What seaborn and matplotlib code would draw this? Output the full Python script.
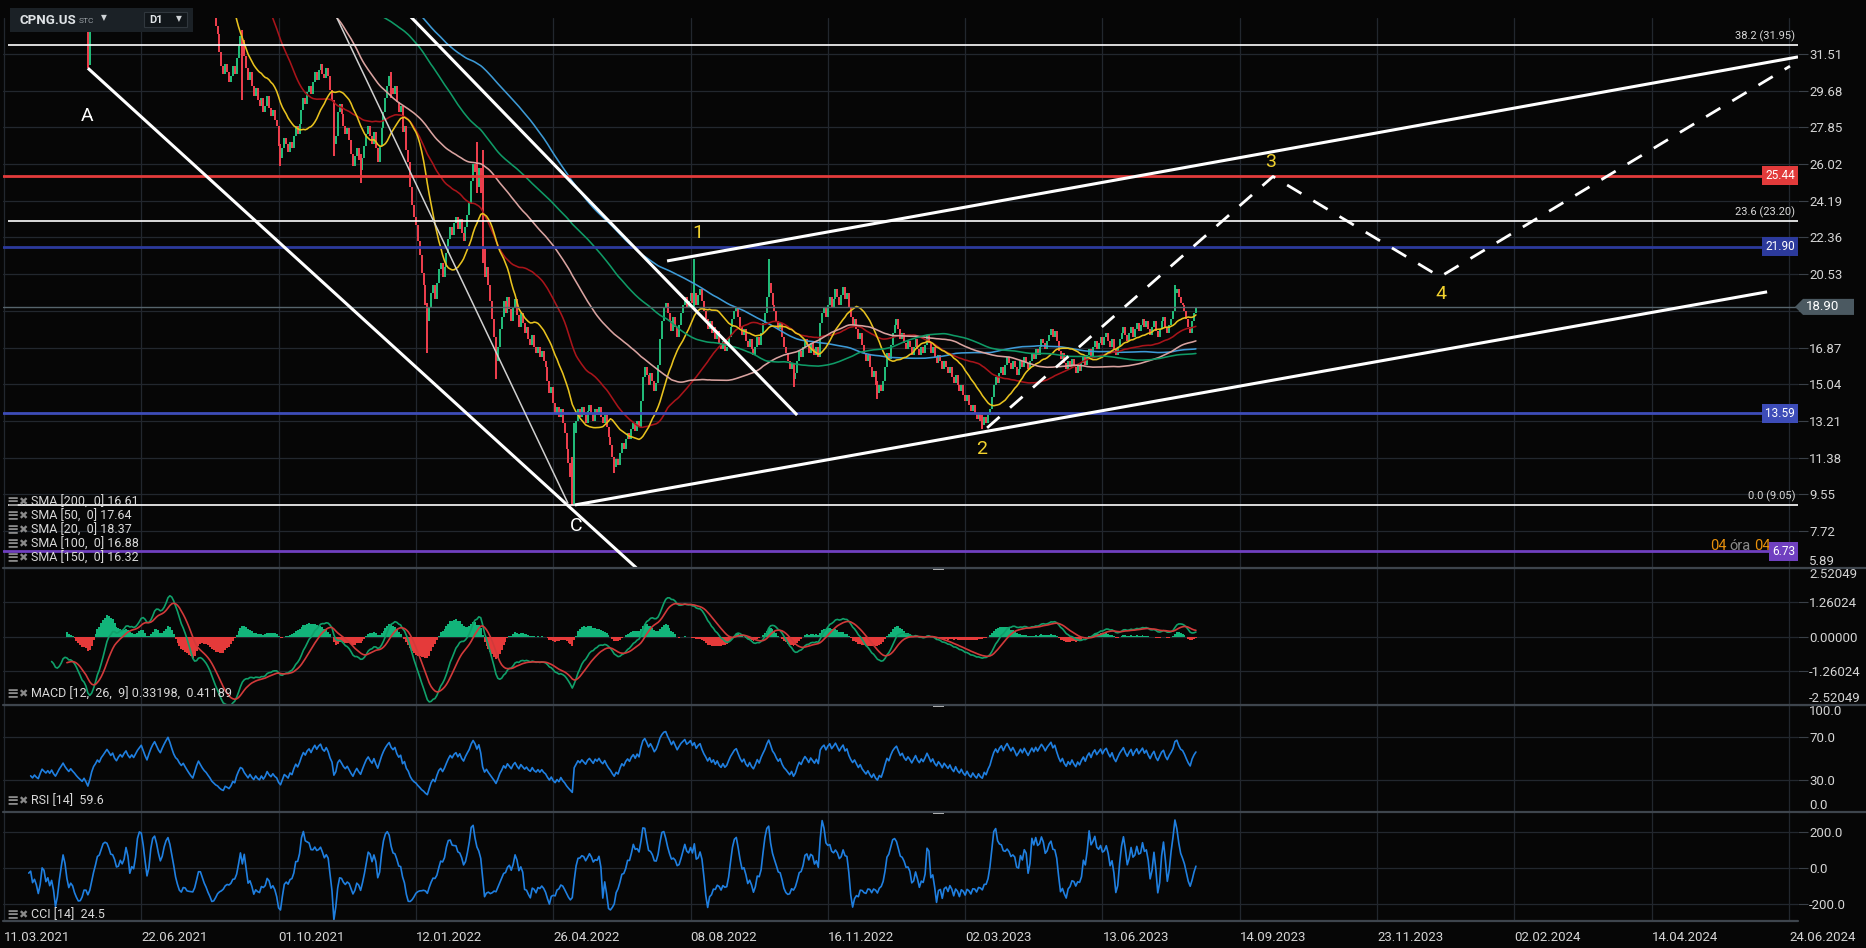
import numpy as np
import pandas as pd
import matplotlib
matplotlib.use("Agg")
import matplotlib.pyplot as plt
import matplotlib.transforms as mtrans
from matplotlib.patches import Polygon, Rectangle
from matplotlib.lines import Line2D
import seaborn as sns

# ---- CPNG.US daily closes (one value per bar) ----
close_mar_apr21 = [49.2, 44.0, 45.4, 43.5, 41.6, 40.2, 41.5, 42.8, 44.0, 43.1,
                   42.5, 41.2, 42.0, 43.3, 42.2, 41.0, 41.8, 40.6, 39.8, 41.2,
                   42.4, 41.5, 40.7, 41.3, 40.2, 41.0]
close_apr_may21 = [39.5, 38.4, 39.2, 40.1, 40.8, 41.6, 40.5, 39.6, 38.8, 39.4,
                   38.6, 37.9, 37.0, 36.2, 35.5, 34.8, 35.3, 33.9, 31.9]
close_may_jun21 = [33.0, 34.6, 35.8, 36.5, 37.4, 36.8, 37.9, 38.6, 39.4, 40.2,
                   39.6, 38.9, 39.5, 38.4, 37.8, 38.6]
close_jun_jul21 = [39.2, 38.7, 39.5, 40.1, 39.3, 38.8, 39.4, 38.9, 39.6, 40.4,
                   41.0, 41.6, 40.8, 39.9, 39.1, 40.3, 41.5, 42.6, 43.5, 42.8,
                   42.1, 41.6, 42.7, 43.8, 44.9, 46.0, 45.2, 44.1, 43.0, 42.2]
close_jul_aug21 = [41.8, 41.0, 40.4, 40.8, 40.0, 39.2, 38.4, 37.6, 36.9, 37.8,
                   38.9, 39.8, 39.0, 38.2, 37.5, 37.0, 36.2, 35.4, 34.3, 33.6]
close_aug_dec21 = [32.9, 32.5, 31.6, 30.9, 30.5, 31.0, 30.6, 30.1, 30.4, 30.9,
                   30.5, 31.3, 31.9, 32.4, 32.2, 31.4, 30.8, 30.2, 30.6, 29.9,
                   29.4, 29.8, 29.2, 28.9, 29.3, 28.6, 28.9, 29.4, 28.8, 28.4,
                   28.7, 28.2, 27.9, 26.9, 26.3, 26.8, 27.3, 27.0, 26.6, 27.1,
                   26.8, 27.4, 27.9, 27.5, 28.0, 28.7, 29.3, 29.0, 29.6, 29.9,
                   29.5, 30.1, 30.6, 30.2, 30.7, 31.0, 30.5, 30.3, 30.8, 30.4,
                   29.7, 29.2, 27.0, 27.4, 28.6, 29.0, 28.5, 27.9, 27.5, 27.8,
                   27.2, 26.5, 25.9, 26.4, 26.8, 26.2, 25.7, 26.3, 26.9, 27.5,
                   27.9, 27.4, 27.0, 27.6, 26.8, 26.1, 26.9, 27.8, 28.6, 29.3]
close_dec21_may22 = [29.9, 30.4, 29.8, 29.5, 29.9, 29.1, 28.6, 28.9, 27.6, 27.9,
                     26.7, 26.1, 24.9, 24.0, 23.4, 23.0, 22.2, 21.5, 20.6, 20.0,
                     19.0, 18.2, 18.9, 19.6, 20.0, 19.3, 20.1, 20.8, 21.1, 20.4,
                     20.9, 21.6, 22.3, 22.9, 22.5, 23.1, 23.4, 22.8, 23.3, 22.6,
                     22.2, 22.9, 23.5, 24.1, 25.2, 26.0, 25.6, 24.9, 25.8, 24.6,
                     21.8, 20.4, 20.9, 20.0, 19.2, 18.3, 17.4, 16.2, 16.9, 17.8,
                     18.4, 19.2, 18.6, 19.4, 18.8, 18.2, 18.9, 19.3, 18.5, 17.9,
                     18.6, 18.1, 17.6, 17.9, 17.3, 17.0, 17.5, 16.9, 16.6, 16.9,
                     16.4, 16.7, 16.2, 15.9, 15.2, 14.6, 14.9, 14.1, 13.6, 13.9,
                     13.4, 13.8, 13.1, 12.6, 11.8, 11.1, 10.4, 9.6, 12.6, 13.2]
close_may_oct22 = [13.8, 13.4, 13.9, 13.5, 13.1, 13.7, 14.0, 13.6, 13.2, 13.8,
                   13.5, 13.9, 13.4, 13.1, 13.5, 12.9, 12.4, 12.0, 11.4, 10.9,
                   11.3, 11.0, 11.6, 12.1, 11.8, 12.3, 12.6, 12.3, 12.8, 13.1,
                   12.7, 13.2, 12.9, 14.2, 15.4, 15.9, 15.5, 15.0, 15.6, 15.2,
                   14.7, 15.1, 16.0, 17.3, 18.2, 18.9, 19.1, 18.6, 18.2, 17.7,
                   18.4, 17.9, 17.4, 18.0, 18.6, 19.0, 19.4, 18.9, 19.2, 19.6,
                   19.1, 19.6, 19.0, 19.5, 19.8, 19.2, 18.7, 18.3, 17.8, 18.2,
                   17.6, 17.9, 17.3, 17.7, 17.1, 16.8, 17.2, 16.7, 16.9, 17.4,
                   17.9, 18.3, 18.7, 18.9, 18.4, 17.9, 17.5, 17.8, 17.2, 16.9,
                   17.3, 16.8, 16.5, 16.9, 17.4, 17.0, 17.6, 18.1, 18.6, 19.4]
close_oct22_mar23 = [20.1, 19.6, 19.0, 18.7, 18.2, 17.8, 18.1, 17.4, 16.9, 16.6,
                     16.2, 15.8, 16.1, 15.3, 15.6, 16.2, 16.7, 16.4, 16.9, 17.3,
                     17.0, 16.6, 17.1, 16.8, 16.5, 16.9, 16.4, 18.1, 18.6, 18.9,
                     18.4, 19.0, 19.4, 18.9, 19.3, 19.8, 19.4, 19.0, 19.5, 19.9,
                     19.3, 19.6, 18.9, 18.4, 18.0, 18.3, 17.8, 17.3, 17.6, 17.0,
                     16.6, 16.2, 16.5, 15.9, 15.4, 15.7, 15.0, 14.6, 15.0, 14.7,
                     15.2, 15.9, 16.6, 16.3, 17.0, 17.6, 18.0, 18.3, 17.8, 17.3,
                     17.6, 17.1, 16.8, 17.2, 16.9, 16.5, 16.9, 17.3, 16.8, 16.5,
                     16.9, 16.6, 17.0, 17.5, 17.1, 16.6, 16.9, 16.4, 16.1, 16.5,
                     16.2, 15.8, 16.2, 15.9, 15.6, 15.9, 15.4, 15.1, 15.5, 15.0]
close_mar_aug23 = [14.7, 15.0, 14.5, 14.2, 14.5, 14.0, 13.7, 14.0, 13.6, 13.3,
                   13.6, 13.2, 13.0, 13.4, 13.1, 13.5, 13.8, 14.4, 15.0, 15.4,
                   15.1, 15.6, 15.9, 15.5, 16.0, 16.4, 16.1, 15.8, 16.2, 15.9,
                   15.5, 15.8, 16.2, 15.9, 16.4, 16.1, 15.8, 16.2, 16.6, 16.3,
                   16.8, 16.5, 16.9, 17.3, 17.1, 16.8, 17.2, 17.5, 17.8, 17.4,
                   17.7, 17.2, 16.7, 16.3, 16.6, 16.1, 15.8, 16.2, 15.9, 16.3,
                   15.9, 15.6, 16.0, 15.7, 16.1, 16.4, 16.0, 16.5, 16.8, 16.4,
                   16.9, 17.2, 16.8, 17.1, 17.4, 17.0, 17.4, 17.6, 17.2, 16.9,
                   17.3, 16.8, 16.5, 16.9, 17.3, 17.6, 17.9, 17.5, 17.2, 17.6,
                   17.9, 17.4, 17.8, 18.1, 17.7, 18.0, 18.3, 17.9, 18.2, 17.8,
                   17.5, 17.9, 18.2, 17.7, 17.4, 17.8, 18.2, 18.4, 17.9, 17.6,
                   18.0, 18.3, 18.7, 19.6, 19.8, 19.4, 19.1, 19.0, 18.7, 18.3,
                   17.9, 17.6, 18.2, 18.6, 18.9]
ipo_open = 63.5

# notable wicks seen on the chart: bar -> (high, low)
wicks = {0: (69.0, 47.0), 44: (35.0, 30.8), 45: (34.2, 30.96), 125: (32.7, 29.2),
         145: (27.0, 25.9), 173: (28.1, 26.4), 187: (26.5, 25.1), 203: (30.6, 29.3),
         222: (19.1, 16.6), 248: (27.1, 24.6), 251: (26.7, 21.1), 258: (17.1, 15.3),
         298: (11.4, 9.05), 299: (13.1, 9.1), 320: (11.4, 10.6), 362: (21.3, 18.9),
         401: (21.3, 19.4), 414: (16.0, 14.9), 458: (15.2, 14.3), 513: (13.5, 12.8),
         614: (20.0, 19.2)}

sma_periods = [200, 50, 20, 100, 150]
sma_values = [16.61, 17.64, 18.37, 16.88, 16.32]
sma_colors = ["#3d9ad6", "#a8141a", "#e8c21e", "#d9a3a0", "#0f9a66"]

date_labels = ["11.03.2021", "22.06.2021", "01.10.2021", "12.01.2022", "26.04.2022",
               "08.08.2022", "16.11.2022", "02.03.2023", "13.06.2023", "14.09.2023",
               "23.11.2023", "02.02.2024", "14.04.2024", "24.06.2024"]
bars_per_tick = 72

price_ticks = [31.51, 29.68, 27.85, 26.02, 24.19, 22.36, 20.53, 18.70,
               16.87, 15.04, 13.21, 11.38, 9.55, 7.72, 5.89]
macd_ticks = [2.52049, 1.26024, 0.0, -1.26024, -2.52049]
rsi_ticks = [100.0, 70.0, 30.0, 0.0]
cci_ticks = [200.0, 0.0, -200.0]

fib_names = ["38.2 (31.95)", "23.6 (23.20)", "0.0 (9.05)"]
fib_prices = [31.95, 23.20, 9.05]
level_prices = [25.44, 21.90, 13.59, 6.73]
level_colors = ["#e23b3b", "#2c3a9c", "#3d4cb8", "#7040c0"]
last_price = 18.90
macd_last = "0.33198,  0.41189"
rsi_last = "59.6"
cci_last = "24.5"

# hand-drawn analysis lines, (bar, price)
line_a = [(44.0, 30.8), (331.6, 5.89)]
line_thin = [(174.6, 33.3), (295.8, 9.1)]
line_fall = [(213.4, 33.35), (415.9, 13.51)]
channel_low = [(299.4, 9.03), (924.5, 19.65)]
channel_high = [(347.7, 21.19), (940.7, 31.36)]
wave_path = [(515.5, 12.87), (665.4, 25.40), (753.0, 20.40), (936.5, 30.90)]
wave_marks = [("A", 43.5, 28.4, "white"), ("C", 300.0, 8.0, "white"),
              ("1", 364.0, 22.6, "#f2d22e"), ("2", 512.8, 11.8, "#f2d22e"),
              ("3", 663.9, 26.1, "#f2d22e"), ("4", 753.5, 19.55, "#f2d22e")]

close = np.array(close_mar_apr21 + close_apr_may21 + close_may_jun21 + close_jun_jul21
                 + close_jul_aug21 + close_aug_dec21 + close_dec21_may22
                 + close_may_oct22 + close_oct22_mar23 + close_mar_aug23)
n = len(close)
idx = np.arange(n)

BG = "#060606"
GRID = "#22272e"
TXT = "#d4d4d4"
GREEN = "#22c07c"
RED = "#f2404e"

sns.set_theme(style="dark")
plt.rcParams["font.family"] = ["Roboto", "DejaVu Sans"]

W, H = 1866, 948
fig = plt.figure(figsize=(W / 100, H / 100), dpi=100, facecolor=BG)


def panel(top, bottom, ylim, ticks, fmt):
    ax = fig.add_axes([3 / W, 1 - bottom / H, 1795 / W, (bottom - top) / H])
    ax.set_facecolor(BG)
    for s in ax.spines.values():
        s.set_visible(False)
    ax.set_xlim(-0.5, 940.7)
    ax.set_ylim(*ylim)
    ax.set_xticks(np.arange(len(date_labels)) * bars_per_tick)
    ax.set_yticks(ticks)
    ax.set_yticklabels([fmt.format(t) for t in ticks])
    ax.grid(True, color=GRID, lw=0.9)
    ax.set_axisbelow(True)
    ax.yaxis.tick_right()
    ax.tick_params(axis="y", length=7, width=0.8, color="#3a4048", pad=1,
                   labelsize=9.5, labelcolor=TXT)
    ax.tick_params(axis="x", length=0, labelbottom=False)
    return ax


ax_p = panel(18, 568, (5.886, 33.30), price_ticks, "{:.2f}")
ax_m = panel(568, 705, (-2.52049, 2.52049), macd_ticks, "{:.5f}")
ax_r = panel(705, 812, (0, 100), rsi_ticks, "{:.1f}")
ax_c = panel(812, 921, (-293, 313), cci_ticks, "{:.1f}")

# edge labels sit inside their panel; 18.70 is hidden under the last-price tag
ax_p.get_yticklabels()[-1].set_va("bottom")
ax_p.get_yticklabels()[7].set_visible(False)
ax_m.get_yticklabels()[0].set_va("top")
ax_m.get_yticklabels()[-1].set_va("bottom")
ax_r.get_yticklabels()[0].set_va("top")
ax_r.get_yticklabels()[-1].set_va("bottom")

ax_c.tick_params(axis="x", labelbottom=True, length=4, color=GRID, pad=3,
                 labelsize=9.5, labelcolor=TXT)
ax_c.set_xticklabels(date_labels, ha="left")

# ---- candles ----
opens = np.r_[ipo_open, close[:-1]]
highs = np.maximum(opens, close)
lows = np.minimum(opens, close)
for b, (hi, lo) in wicks.items():
    highs[b] = max(highs[b], hi)
    lows[b] = min(lows[b], lo)
up = close >= opens
ax_p.vlines(idx[up], lows[up], highs[up], color=GREEN, lw=1.4, zorder=2)
ax_p.vlines(idx[~up], lows[~up], highs[~up], color=RED, lw=1.4, zorder=2)

# ---- moving averages ----
cs = pd.Series(close)
for p, col in zip(sma_periods, sma_colors):
    sma = cs.rolling(p).mean()
    ok = sma.notna().values
    sns.lineplot(x=idx[ok], y=sma.values[ok], ax=ax_p, color=col, lw=1.15,
                 estimator=None, legend=False, zorder=3)

# ---- horizontal levels ----
trans_p = mtrans.blended_transform_factory(ax_p.transAxes, ax_p.transData)
for name, lvl in zip(fib_names, fib_prices):
    ax_p.hlines(lvl, 2, 940.7, color="white", lw=1.2, zorder=4)
    ax_p.text((1795 - 3) / 1795, lvl + 0.15, name, transform=trans_p, ha="right",
              va="bottom", fontsize=8, color="#d8d8d8", zorder=6)
for lvl, col in zip(level_prices, level_colors):
    ax_p.axhline(lvl, color=col, lw=2.0, zorder=4)
    ax_p.text(1.0 - 3 / 1795, lvl, f"{lvl:.2f}", transform=trans_p, ha="right",
              va="center", fontsize=8.5, color="white", zorder=8,
              bbox=dict(boxstyle="square,pad=0.25", fc=col, ec="none"))
ax_p.axhline(last_price, color="#56646c", lw=1.0, zorder=4)

# "04óra 04" countdown next to the purple level
ax_p.text(894.6, 6.80, "04", fontsize=10.5, color="#e8900c", va="baseline", zorder=7, clip_on=False)
ax_p.text(904.5, 6.80, "óra", fontsize=10.5, color="#8a8a8a", va="baseline", zorder=7, clip_on=False)
ax_p.text(917.5, 6.80, "04", fontsize=10.5, color="#e8900c", va="baseline", zorder=7, clip_on=False)

# last price tag
tip = (1795 - 3) / 1795
left = (1803 - 3) / 1795
right = (1854 - 3) / 1795
half = 0.40
tag = Polygon([(tip, last_price), (left, last_price + half), (right, last_price + half),
               (right, last_price - half), (left, last_price - half)],
              closed=True, transform=trans_p, fc="#4b5961", ec="none", zorder=20,
              clip_on=False)
ax_p.add_patch(tag)
ax_p.text((1806 - 3) / 1795, last_price, f"{last_price:.2f}", transform=trans_p,
          ha="left", va="center", fontsize=9.5, color="white", zorder=21, clip_on=False)

# ---- analysis lines ----
for seg, lw, col in [(line_a, 2.2, "white"), (line_thin, 1.1, "#d0d0d0"),
                     (line_fall, 2.2, "white"), (channel_low, 2.2, "white"),
                     (channel_high, 2.2, "white")]:
    xs, ys = zip(*seg)
    ax_p.plot(xs, ys, color=col, lw=lw, zorder=5, solid_capstyle="butt")
xs, ys = zip(*wave_path)
ax_p.plot(xs, ys, color="white", lw=2.0, dashes=(6, 5), zorder=5)
for txt, bx, py, col in wave_marks:
    ax_p.text(bx, py, txt, color=col, fontsize=14, ha="center", va="center", zorder=6)

# ---- MACD ----
def ema(x, span):
    x = np.asarray(x, float)
    out = np.full(len(x), np.nan)
    start = int(np.argmax(~np.isnan(x)))
    k = 2.0 / (span + 1)
    out[start + span - 1] = np.mean(x[start:start + span])
    for i in range(start + span, len(x)):
        out[i] = out[i - 1] + k * (x[i] - out[i - 1])
    return out


macd = ema(close, 12) - ema(close, 26)
signal = ema(macd, 9)
hist = macd - signal
okh = ~np.isnan(hist)
ax_m.bar(idx[okh], hist[okh], width=1.0, lw=0,
         color=np.where(hist[okh] >= 0, "#12b47a", "#e53a3a"), zorder=2)
okm = ~np.isnan(macd)
sns.lineplot(x=idx[okm], y=macd[okm], ax=ax_m, color="#10a06a", lw=1.2,
             estimator=None, legend=False, zorder=3)
sns.lineplot(x=idx[okh], y=signal[okh], ax=ax_m, color="#d23a3a", lw=1.2,
             estimator=None, legend=False, zorder=3)

# ---- RSI 14 (Wilder) ----
delta = np.diff(close)
gain = np.clip(delta, 0, None)
loss = np.clip(-delta, 0, None)
rsi = np.full(n, np.nan)
ag, al = gain[:14].mean(), loss[:14].mean()
rsi[14] = 100 - 100 / (1 + ag / al)
for i in range(15, n):
    ag = (ag * 13 + gain[i - 1]) / 14
    al = (al * 13 + loss[i - 1]) / 14
    rsi[i] = 100 - 100 / (1 + ag / al)
okr = ~np.isnan(rsi)
sns.lineplot(x=idx[okr], y=rsi[okr], ax=ax_r, color="#1f7fe0", lw=1.2,
             estimator=None, legend=False)

# ---- CCI 14 ----
tp = pd.Series((highs + lows + close) / 3)
tp_ma = tp.rolling(14).mean()
tp_md = tp.rolling(14).apply(lambda v: np.mean(np.abs(v - v.mean())), raw=True)
cci = ((tp - tp_ma) / (0.015 * tp_md)).values
okc = ~np.isnan(cci)
sns.lineplot(x=idx[okc], y=cci[okc], ax=ax_c, color="#1f7fe0", lw=1.2,
             estimator=None, legend=False)

# ---- panel separators ----
for y, x1 in [(568, 1.0), (705, 1.0), (812, 1.0), (921, 1798 / W)]:
    fig.add_artist(Line2D([3 / W, x1], [1 - y / H] * 2, transform=fig.transFigure,
                          color="#3e454d", lw=1.6))
for y in [568, 705, 812]:
    fig.add_artist(Rectangle((933 / W, 1 - (y + 1.5) / H), 11 / W, 3 / H,
                             transform=fig.transFigure, fc="#b8b8b8", ec="none"))

# ---- indicator captions ----
def caption(y, text):
    fig.text(6 / W, 1 - y / H, "≡", fontsize=10.5, color="#8a8a8a", va="center",
             family=["DejaVu Sans"], weight="bold")
    fig.text(18 / W, 1 - y / H, "✖", fontsize=8, color="#8a8a8a", va="center",
             family=["DejaVu Sans"])
    fig.text(31 / W, 1 - y / H, text, fontsize=9, color="#d8d8d8", va="center")


for i, (p, v) in enumerate(zip(sma_periods, sma_values)):
    caption(502 + 14 * i, f"SMA [{p},  0] {v:.2f}")
caption(694, f"MACD [12,  26,  9] {macd_last}")
caption(801, f"RSI [14]  {rsi_last}")
caption(915, f"CCI [14]  {cci_last}")

# ---- symbol header ----
fig.add_artist(Rectangle((10 / W, 1 - 32 / H), 183 / W, 24 / H, transform=fig.transFigure,
                         fc="#1b2126", ec="none", zorder=30))
fig.add_artist(Rectangle((144 / W, 1 - 27 / H), 43 / W, 15 / H, transform=fig.transFigure,
                         fc="#11161a", ec="#30373d", lw=0.8, zorder=31))
fig.text(19 / W, 1 - 20 / H, "CPNG.US", fontsize=9.5, weight="bold", color="#dfe3e6",
         va="center", zorder=32)
fig.text(79 / W, 1 - 21 / H, "STC", fontsize=6, color="#9aa0a5", va="center", zorder=32)
fig.text(101 / W, 1 - 18 / H, "▼", fontsize=5.5, color="#cfd3d6", va="center",
         family=["DejaVu Sans"], zorder=32)
fig.text(149 / W, 1 - 20 / H, "D1", fontsize=8, weight="bold", color="#dfe3e6",
         va="center", zorder=32)
fig.text(176 / W, 1 - 19 / H, "▼", fontsize=5.5, color="#cfd3d6", va="center",
         family=["DejaVu Sans"], zorder=32)

fig.savefig("out.png", dpi=100, facecolor=BG)
